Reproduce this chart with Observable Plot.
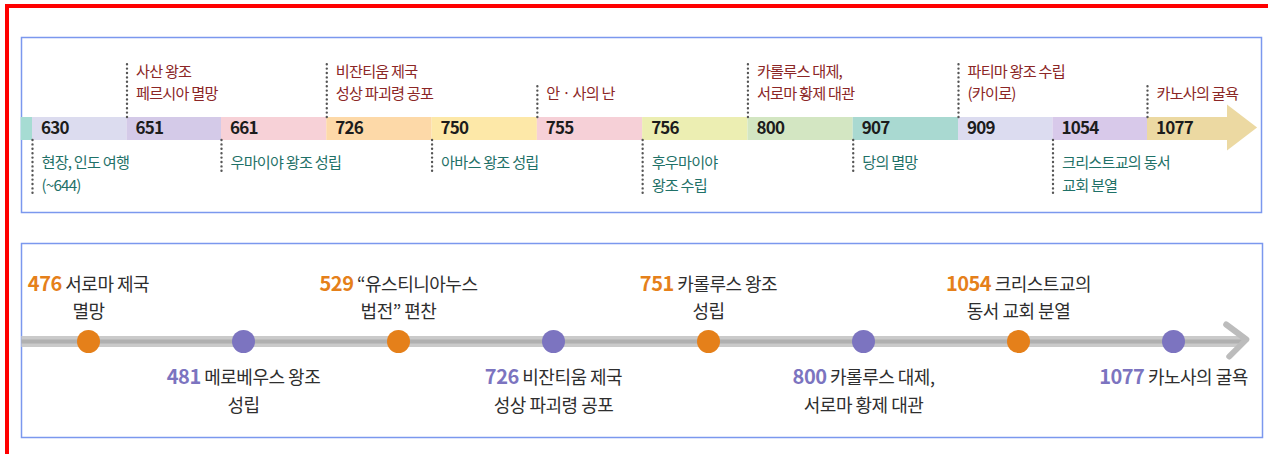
<!DOCTYPE html>
<html><head><meta charset="utf-8">
<script src="https://cdn.jsdelivr.net/npm/d3@7"></script>
<script src="https://cdn.jsdelivr.net/npm/@observablehq/plot@0.6"></script>
<style>
html,body{margin:0;padding:0;background:#fff;width:1268px;height:454px;overflow:hidden;}
#redbox{position:absolute;left:5px;top:4px;width:2000px;height:1000px;border:4px solid #ff0000;box-sizing:border-box;}
#topPanel{position:absolute;left:0;top:0;}
#bottomPanel{position:absolute;left:0;top:226px;}
#topPanel svg text{letter-spacing:-0.8px;}
#bottomPanel svg text{letter-spacing:-0.5px;}
</style></head><body>
<div id="redbox"></div>
<div id="topPanel"></div>
<div id="bottomPanel"></div>
<script>
// ---- data: upper timeline ----
const bandYears = [630, 651, 661, 726, 750, 755, 756, 800, 907, 909, 1054, 1077];
const aboveYears = [651, 726, 755, 800, 909, 1077];
const aboveLabels = [
  ["사산 왕조", "페르시아 멸망"],
  ["비잔티움 제국", "성상 파괴령 공포"],
  ["안 · 사의 난"],
  ["카롤루스 대제,", "서로마 황제 대관"],
  ["파티마 왕조 수립", "(카이로)"],
  ["카노사의 굴욕"]
];
const belowYears = [630, 661, 750, 756, 907, 1054];
const belowLabels = [
  ["현장, 인도 여행", "(~644)"],
  ["우마이야 왕조 성립"],
  ["아바스 왕조 성립"],
  ["후우마이야", "왕조 수립"],
  ["당의 멸망"],
  ["크리스트교의 동서", "교회 분열"]
];
// ---- data: lower timeline ----
const dotYears = [476, 481, 529, 726, 751, 800, 1054, 1077];
const dotTitles = ["서로마 제국", "메로베우스 왕조", "“유스티니아누스", "비잔티움 제국", "카롤루스 왕조", "카롤루스 대제,", "크리스트교의", "카노사의 굴욕"];
const dotDetails = ["멸망", "성립", "법전” 편찬", "성상 파괴령 공포", "성립", "서로마 황제 대관", "동서 교회 분열", ""];

// ---- styles ----
const FONT = "'Noto Sans CJK KR', 'Noto Sans', sans-serif";
const bandColors = ["#dcdcef", "#d4cae8", "#f7d1d7", "#fdd9a8", "#fde8a8", "#f6d0d7", "#eceeb2", "#d3e6c2", "#a9d9d1", "#dcdcf0", "#d8c9ea", "#ecd9a2"];
const leadColor = "#a6dcd3";
const ABOVE_TEXT = "#8b2626", BELOW_TEXT = "#1f7168", YEAR_TEXT = "#1c1c1c";
const BLUE = "#7b98ee", ORANGE = "#e5801a", PURPLE = "#7c74c0", GREY_TEXT = "#2e2e2e";
const dotted = {stroke: "#555", strokeWidth: 2.4, strokeDasharray: "0 4.4", strokeLinecap: "round"};

const BAND = 11.5, FIRST = 34.5, GAP = 22.5;
const idx = y => bandYears.indexOf(y);
const bandData = bandYears.map((year, i) => ({year, i}));
const aboveLines = aboveYears.flatMap((year, k) => aboveLabels[k].map((text, j, arr) => ({i: idx(year), text, row: arr.length - 1 - j})));
const aboveRules = aboveYears.map((year, k) => ({i: idx(year), n: aboveLabels[k].length}));
const belowLines = belowYears.flatMap((year, k) => belowLabels[k].map((text, j) => ({i: idx(year), text, row: j})));
const belowRules = belowYears.map((year, k) => ({i: idx(year), n: belowLabels[k].length}));
const arrowHead = [{x: 11.93, lo: -22, hi: 24}, {x: 12.28, lo: 1, hi: 1}];

const topPlot = Plot.plot({
  width: 1268, height: 222,
  marginLeft: 21, marginRight: 7, marginTop: 37, marginBottom: 10,
  style: {fontFamily: FONT, background: "transparent", overflow: "visible"},
  x: {type: "linear", domain: [0, 2, 9, 11, 12], range: [32, 221, 958, 1147, 1233], axis: null},
  y: {type: "linear", domain: [-100, 100], range: [228.5, 28.5], axis: null},
  color: {type: "ordinal", domain: bandYears, range: bandColors},
  marks: [
    Plot.frame({stroke: BLUE, strokeWidth: 1.5}),
    Plot.rect([0], {x1: -0.12, x2: 0, y1: -BAND, y2: BAND, fill: leadColor}),
    Plot.rect(bandData, {x1: "i", x2: d => d.i + 1, y1: -BAND, y2: BAND, fill: "year"}),
    Plot.areaY(arrowHead, {x: "x", y1: "lo", y2: "hi", fill: bandColors[11]}),
    Plot.ruleX(aboveRules, {x: "i", y1: BAND, y2: d => FIRST + GAP * (d.n - 1) + 9.5, ...dotted}),
    Plot.ruleX(belowRules, {x: "i", y1: -BAND, y2: d => -(FIRST + GAP * (d.n - 1) + 9), ...dotted}),
    Plot.text(bandData, {x: "i", y: 0, text: d => String(d.year), dx: 8.5, textAnchor: "start", fontSize: 17, fontWeight: 700, fill: YEAR_TEXT, fontFamily: FONT}),
    Plot.text(aboveLines, {x: "i", y: d => FIRST + GAP * d.row, text: "text", dx: 9, textAnchor: "start", fontSize: 15.2, fill: ABOVE_TEXT, fontFamily: FONT}),
    Plot.text(belowLines, {x: "i", y: d => -(FIRST + GAP * d.row), text: "text", dx: 9, textAnchor: "start", fontSize: 15.2, fill: BELOW_TEXT, fontFamily: FONT})
  ]
});
document.getElementById("topPanel").appendChild(topPlot);

// ---- lower timeline ----
const dotData = dotYears.map((year, i) => ({i, year, title: dotTitles[i], detail: dotDetails[i], side: i % 2 === 0 ? "above" : "below"}));
const chevron = [{x: 7.34, y: 17}, {x: 7.47, y: 2}, {x: 7.36, y: -15}];

const bottomPlot = Plot.plot({
  width: 1268, height: 220,
  marginLeft: 21, marginRight: 6, marginTop: 17, marginBottom: 9,
  style: {fontFamily: FONT, background: "transparent", overflow: "visible"},
  x: {type: "linear", domain: [0, 7], range: [88, 1173], axis: null},
  y: {type: "linear", domain: [-100, 100], range: [215, 15], axis: null},
  color: {type: "ordinal", domain: ["above", "below"], range: [ORANGE, PURPLE]},
  marks: [
    Plot.frame({stroke: BLUE, strokeWidth: 1.5}),
    Plot.ruleY([0], {x1: -0.43, x2: 7.45, stroke: "#cacaca", strokeWidth: 11}),
    Plot.ruleY([0], {x1: -0.43, x2: 7.45, stroke: "#a5a5a5", strokeWidth: 4, strokeOpacity: 0.7}),
    Plot.line(chevron, {x: "x", y: "y", stroke: "#bcbcbc", strokeWidth: 6, strokeLinecap: "round", strokeLinejoin: "round"}),
    Plot.dot(dotData, {x: "i", y: 0, r: 11.5, fill: "side"}),
    Plot.text(dotData, {x: "i", y: d => d.side === "above" ? 56 : -36.5, text: d => `${d.year} ${d.title}`, fontSize: 18, fill: GREY_TEXT, fontFamily: FONT}),
    Plot.text(dotData.filter(d => d.detail), {x: "i", y: d => d.side === "above" ? 29.5 : -64.5, text: "detail", fontSize: 18, fill: GREY_TEXT, fontFamily: FONT})
  ]
});
document.getElementById("bottomPanel").appendChild(bottomPlot);

// colour the year part of each title line
d3.select(bottomPlot).selectAll("text").each(function() {
  const m = /^(\d+) (.*)$/.exec(this.textContent);
  if (!m) return;
  const d = dotData.find(e => String(e.year) === m[1] && e.title === m[2]);
  if (!d) return;
  const el = d3.select(this);
  el.text(null);
  el.append("tspan").attr("font-weight", 700).attr("font-size", 20).attr("fill", d.side === "above" ? ORANGE : PURPLE).text(m[1]);
  el.append("tspan").text(" " + m[2]);
});
</script>
</body></html>
